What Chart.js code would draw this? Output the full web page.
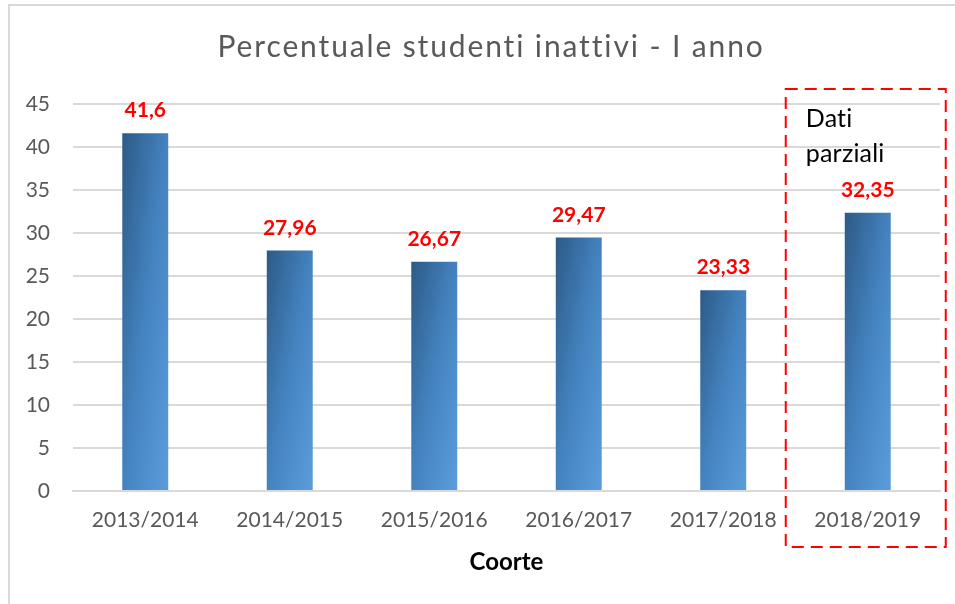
<!DOCTYPE html>
<html>
<head>
<meta charset="utf-8">
<script src="https://cdn.jsdelivr.net/npm/chart.js@4.4.1/dist/chart.umd.min.js"></script>
<style>
  html, body { margin: 0; padding: 0; width: 955px; height: 604px; overflow: hidden; background: #fff; }
  #frame { position: absolute; left: 8px; top: 4px; width: 1000px; height: 700px; border: 2px solid #d9d9d9; box-sizing: border-box; }
  #wrap { position: absolute; left: 10px; top: 6px; width: 960px; height: 616px; }
</style>
</head>
<body>
<div id="frame"></div>
<div id="wrap"><canvas id="inattiviChart" width="960" height="616"></canvas></div>
<script>
const coorti = ['2013/2014', '2014/2015', '2015/2016', '2016/2017', '2017/2018', '2018/2019'];
const inattivi = [41.6, 27.96, 26.67, 29.47, 23.33, 32.35];
const yTicks = [0, 5, 10, 15, 20, 25, 30, 35, 40, 45];
const partialIndex = 5;
const partialText = ['Dati', 'parziali'];
const chartTitle = 'Percentuale studenti inattivi - I anno';

const BAR_PCT = 0.318;

// gradient scuro in alto a sinistra -> chiaro in basso a destra, relativo alla barra
function barGradient(c) {
  const chart = c.chart;
  if (!chart.chartArea || c.type !== 'data') return '#4483c0';
  const xs = chart.scales.x, ys = chart.scales.y;
  const cx = xs.getPixelForValue(c.dataIndex);
  const w = xs.width / coorti.length * BAR_PCT;
  const top = ys.getPixelForValue(c.raw);
  const base = ys.getPixelForValue(0);
  const h = Math.max(base - top, 1);
  const k = 2 * w * h / (h * h + w * w);
  const x0 = cx - w / 2;
  const g = chart.ctx.createLinearGradient(x0, top, x0 + k * h, top + k * w);
  g.addColorStop(0, '#2c5a86');
  g.addColorStop(0.5, '#4483c0');
  g.addColorStop(1, '#5b9ddc');
  return g;
}

// titolo leggermente spaziato come nell'originale
const titlePlugin = {
  id: 'spacedTitle',
  afterDraw(chart) {
    const ctx = chart.ctx;
    ctx.save();
    ctx.font = '30px Lato';
    ctx.fillStyle = '#595959';
    ctx.textAlign = 'left';
    ctx.textBaseline = 'alphabetic';
    ctx.letterSpacing = '0px';
    const w0 = ctx.measureText(chartTitle).width;
    const sp = Math.max(0.1, (545 - w0) / (chartTitle.length - 1));
    ctx.letterSpacing = sp + 'px';
    ctx.fillText(chartTitle, chart.width / 2 - 545 / 2, 51);
    ctx.restore();
  }
};

const labelsPlugin = {
  id: 'valueLabels',
  afterDatasetsDraw(chart) {
    const ctx = chart.ctx;
    const meta = chart.getDatasetMeta(0);
    ctx.save();
    ctx.font = 'bold 21px Lato';
    ctx.fillStyle = '#ff0000';
    ctx.textAlign = 'center';
    ctx.textBaseline = 'alphabetic';
    meta.data.forEach((bar, i) => {
      ctx.fillText(String(inattivi[i]).replace('.', ','), bar.x, bar.y - 16);
    });
    ctx.restore();
  }
};

const partialPlugin = {
  id: 'partialBox',
  afterDraw(chart) {
    const ctx = chart.ctx;
    const xs = chart.scales.x, ys = chart.scales.y;
    const cx = xs.getPixelForValue(partialIndex);
    const left = cx - 82, right = cx + 78;
    const top = ys.getPixelForValue(45) - 15;
    const bottom = chart.chartArea.bottom + 56;
    ctx.save();
    ctx.strokeStyle = '#ff0000';
    ctx.lineWidth = 2;
    ctx.setLineDash([12, 7]);
    ctx.strokeRect(left, top, right - left, bottom - top);
    ctx.setLineDash([]);
    ctx.font = '25px Lato';
    ctx.fillStyle = '#000000';
    ctx.textAlign = 'left';
    ctx.textBaseline = 'alphabetic';
    ctx.letterSpacing = '0.2px'; // niente legatura "ti"
    ctx.fillText(partialText[0], left + 20, top + 38);
    ctx.fillText(partialText[1], left + 20, top + 73);
    ctx.restore();
  }
};

const ctx = document.getElementById('inattiviChart').getContext('2d');

const chart = new Chart(ctx, {
  type: 'bar',
  data: {
    labels: coorti,
    datasets: [{
      label: 'Percentuale studenti inattivi',
      data: inattivi,
      backgroundColor: barGradient,
      borderWidth: 0,
      categoryPercentage: 1,
      barPercentage: BAR_PCT
    }]
  },
  options: {
    responsive: false,
    animation: false,
    layout: { padding: { left: 0, right: 30, top: 98, bottom: 0 } },
    plugins: {
      legend: { display: false },
      tooltip: { enabled: false },
      title: { display: false }
    },
    scales: {
      x: {
        grid: { display: false, drawTicks: false },
        border: { display: true, color: '#d9d9d9', width: 2 },
        ticks: { color: '#595959', font: { family: 'Lato', size: 21 }, padding: 17, maxRotation: 0 },
        title: {
          display: true,
          text: 'Coorte',
          color: '#000000',
          font: { family: 'Lato', size: 24, weight: 'bold', lineHeight: 1.2 },
          padding: { top: 0, bottom: 45 }
        },
        afterFit(scale) { scale.height = 131; }
      },
      y: {
        min: 0,
        max: 45,
        afterBuildTicks(scale) { scale.ticks = yTicks.map(v => ({ value: v })); },
        grid: { color: '#d9d9d9', lineWidth: 2, drawTicks: false },
        border: { display: false },
        ticks: { color: '#595959', font: { family: 'Lato', size: 21 }, padding: 23 },
        afterFit(scale) { scale.width = 63; }
      }
    }
  },
  plugins: [titlePlugin, labelsPlugin, partialPlugin]
});
</script>
</body>
</html>
